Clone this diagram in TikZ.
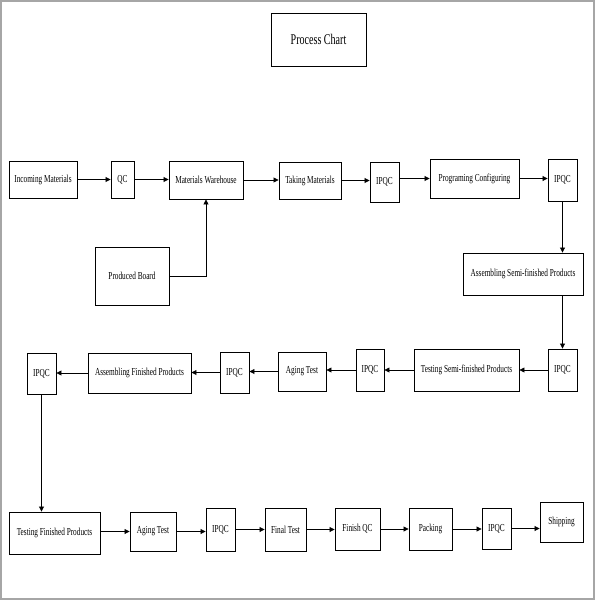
\documentclass[tikz,border=0pt]{standalone}
\usepackage{fontspec}
\setmainfont{Liberation Serif}[FakeStretch=0.68]
\usetikzlibrary{arrows.meta}

\begin{document}
\begin{tikzpicture}[x=1pt,y=-1pt]
	\tikzset{every node/.style={draw, line width=.9pt, inner sep=0pt, font=\fontsize{10.7}{12}\selectfont}}
	\tikzset{flow/.style={line width=.8pt, -{Triangle[length=5pt,width=5pt]}}}

	\useasboundingbox (0,0) rectangle (600,600);
	\draw [gray!70, line width=1.5pt] (1,1) rectangle (594,599);

	\node [minimum width=95pt, minimum height=53pt, font=\fontsize{14.8}{16}\selectfont] (title) at (318.5,39.5) {Process Chart};

	\node [minimum width=68pt, minimum height=37pt] (incoming) at (43,179.5)	{Incoming Materials};
	\node [minimum width=23pt, minimum height=37pt] (qc) at (122.5,179.5)		{QC};
	\node [minimum width=74pt, minimum height=38pt] (warehouse) at (206,180)	{Materials Warehouse};
	\node [minimum width=62pt, minimum height=37pt] (taking) at (310,180.5)		{Taking Materials};
	\node [minimum width=29pt, minimum height=40pt] (ipqcA) at (384.5,182)		{IPQC};
	\node [minimum width=89pt, minimum height=39pt] (programing) at (474.5,178.5)	{Programing Configuring};
	\node [minimum width=29pt, minimum height=42pt] (ipqcB) at (562.5,180)		{IPQC};

	\node [minimum width=74pt, minimum height=58pt] (produced) at (132,276)		{Produced Board};
	\node [minimum width=120pt, minimum height=42pt] (semiasm) at (523,274)		{Assembling Semi-finished Products};

	\node [minimum width=29pt, minimum height=42pt] (ipqcC) at (562.5,370)		{IPQC};
	\node [minimum width=105pt, minimum height=42pt] (semitest) at (466.5,370)	{Testing Semi-finished Products};
	\node [minimum width=28pt, minimum height=42pt] (ipqcD) at (370,370)		{IPQC};
	\node [minimum width=48pt, minimum height=39pt] (agingA) at (302,371.5)		{Aging Test};
	\node [minimum width=29pt, minimum height=41pt] (ipqcE) at (234.5,372.5)	{IPQC};
	\node [minimum width=103pt, minimum height=40pt] (finasm) at (139.5,373)	{Assembling Finished Products};
	\node [minimum width=29pt, minimum height=41pt] (ipqcF) at (41.5,373.5)		{IPQC};

	\node [minimum width=91pt, minimum height=42pt] (fintest) at (54.5,533)		{Testing Finished Products};
	\node [minimum width=46pt, minimum height=39pt] (agingB) at (153,531.5)		{Aging Test};
	\node [minimum width=29pt, minimum height=43pt] (ipqcG) at (220.5,529.5)	{IPQC};
	\node [minimum width=41pt, minimum height=43pt] (final) at (285.5,529.5)	{Final Test};
	\node [minimum width=45pt, minimum height=42pt] (finishqc) at (357.5,529)	{Finish QC};
	\node [minimum width=43pt, minimum height=42pt] (packing) at (430.5,529)	{Packing};
	\node [minimum width=29pt, minimum height=41pt] (ipqcH) at (496.5,528.5)	{IPQC};
	\node [minimum width=43pt, minimum height=40pt] (shipping) at (561.5,522)	{Shipping};

	\draw [flow] (incoming) -- (incoming -| qc.west);
	\draw [flow] (qc) -- (qc -| warehouse.west);
	\draw [flow] (warehouse) -- (warehouse -| taking.west);
	\draw [flow] (taking) -- (taking -| ipqcA.west);
	\draw [flow] (programing -| ipqcA.east) -- (programing);
	\draw [flow] (programing) -- (programing -| ipqcB.west);
	\draw [flow] (produced) -| (warehouse);

	\draw [flow] (ipqcB) -- (ipqcB |- semiasm.north);
	\draw [flow] (ipqcC |- semiasm.south) -- (ipqcC);

	\draw [flow] (ipqcC) -- (ipqcC -| semitest.east);
	\draw [flow] (semitest) -- (semitest -| ipqcD.east);
	\draw [flow] (ipqcD) -- (ipqcD -| agingA.east);
	\draw [flow] (agingA) -- (agingA -| ipqcE.east);
	\draw [flow] (ipqcE) -- (ipqcE -| finasm.east);
	\draw [flow] (finasm) -- (finasm -| ipqcF.east);
	\draw [flow] (ipqcF) -- (ipqcF |- fintest.north);

	\draw [flow] (agingB -| fintest.east) -- (agingB);
	\draw [flow] (agingB) -- (agingB -| ipqcG.west);
	\draw [flow] (ipqcG) -- (ipqcG -| final.west);
	\draw [flow] (final) -- (final -| finishqc.west);
	\draw [flow] (finishqc) -- (finishqc -| packing.west);
	\draw [flow] (packing) -- (packing -| ipqcH.west);
	\draw [flow] (ipqcH) -- (ipqcH -| shipping.west);
\end{tikzpicture}
\end{document}
